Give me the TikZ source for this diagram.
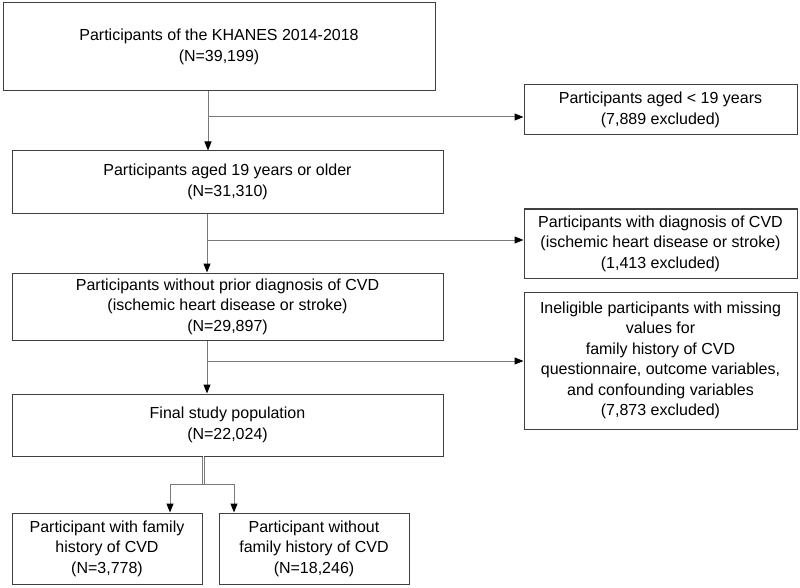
\documentclass[tikz,border=0pt]{standalone}
\usepackage{fontspec}
\setmainfont{Liberation Sans}
\usetikzlibrary{arrows.meta}
\definecolor{boxline}{HTML}{404040}
\definecolor{conline}{HTML}{7A7A7A}
\tikzset{
  box/.style={draw=boxline, line width=1pt, rectangle, align=center, inner sep=0pt,
    font=\fontsize{16}{20.5}\selectfont, text=black},
  con/.style={draw=conline, line width=1pt},
  arr/.style={con, -{Triangle[width=7pt,length=9pt,fill=black,color=black]}}
}
\begin{document}
\begin{tikzpicture}[x=1pt,y=-1pt]
\useasboundingbox (0,0) rectangle (800,588);
\node[box, minimum width=432pt, minimum height=88pt] (k) at (219,47) {Participants of the KHANES 2014-2018\\(N=39,199)};
\node[box, minimum width=273pt, minimum height=50pt] (a) at (660.5,110) {Participants aged < 19 years\\(7,889 excluded)};
\node[box, minimum width=431pt, minimum height=62pt] (b) at (227.5,182) {Participants aged 19 years or older\\(N=31,310)};
\node[box, minimum width=273pt, minimum height=69pt] (c) at (660.5,243.5) {Participants with diagnosis of CVD\\(ischemic heart disease or stroke)\\(1,413 excluded)};
\node[box, minimum width=431pt, minimum height=67pt] (d) at (227.5,306.5) {Participants without prior diagnosis of CVD\\(ischemic heart disease or stroke)\\(N=29,897)};
\node[box, minimum width=273pt, minimum height=137pt] (e) at (660.5,360.5) {Ineligible participants with missing\\values for\\family history of CVD\\questionnaire, outcome variables,\\and confounding variables\\(7,873 excluded)};
\node[box, minimum width=431pt, minimum height=62pt] (f) at (227.5,425) {Final study population\\(N=22,024)};
\node[box, minimum width=190pt, minimum height=71pt] (g) at (107,548.5) {Participant with family\\history of CVD\\(N=3,778)};
\node[box, minimum width=190pt, minimum height=71pt] (h) at (314,548.5) {Participant without\\family history of CVD\\(N=18,246)};

\coordinate (j1) at (208,117);
\coordinate (j2) at (207,240);
\coordinate (j3) at (207,361);
\coordinate (j4) at (203.5,484);
\coordinate (l4) at (170,484);
\coordinate (r4) at (234,484);

\draw[arr] (j1 |- k.south) -- (j1 |- b.north);
\draw[arr] (j1) -- (j1 -| a.west);
\draw[arr] (j2 |- b.south) -- (j2 |- d.north);
\draw[arr] (j2) -- (j2 -| c.west);
\draw[arr] (j3 |- d.south) -- (j3 |- f.north);
\draw[arr] (j3) -- (j3 -| e.west);
\draw[draw=conline, line width=3.4pt] (j4 |- f.south) -- (j4);
\draw[draw=white, line width=1.4pt] ([yshift=0.5pt]j4 |- f.south) -- ([yshift=-1.7pt]j4);
\draw[con] (l4) -- (r4);
\draw[arr] (l4) -- (l4 |- g.north);
\draw[arr] (r4) -- (r4 |- h.north);
\end{tikzpicture}
\end{document}
